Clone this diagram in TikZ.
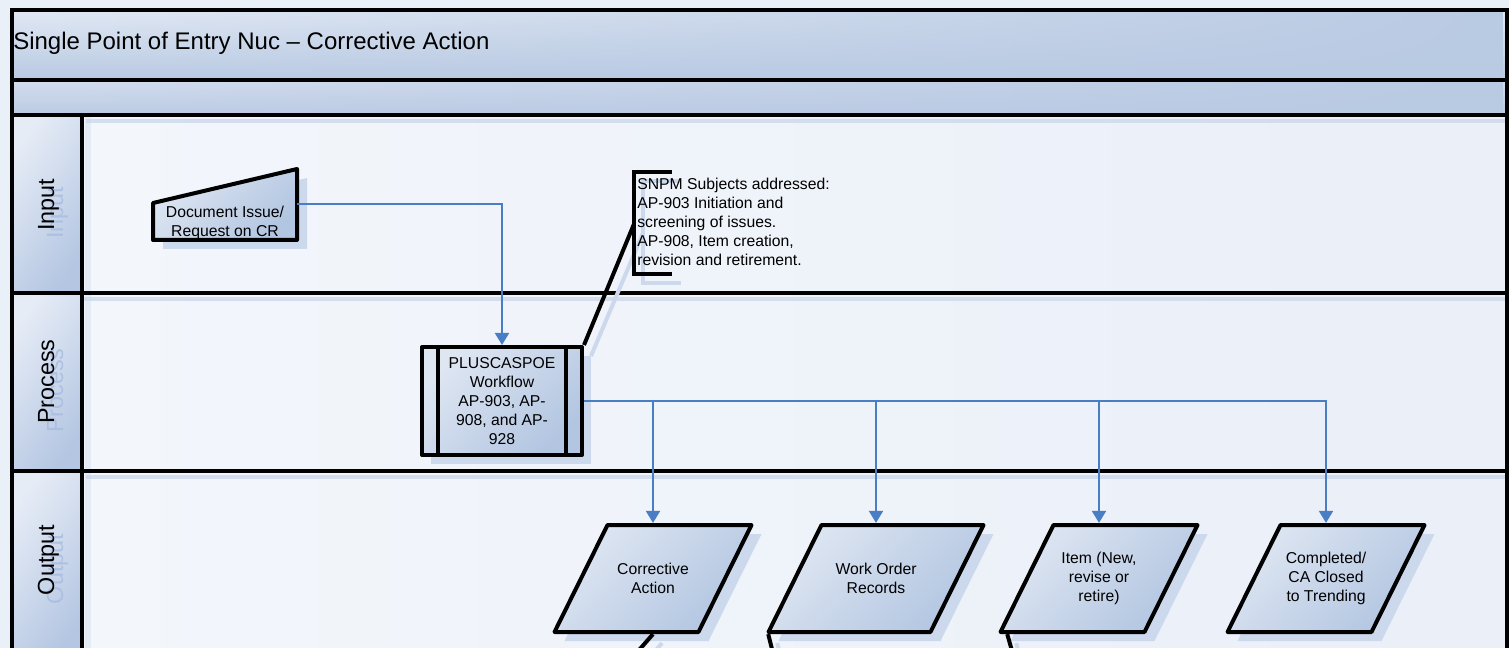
\documentclass[tikz,border=0pt]{standalone}
\usepackage{fontspec}
\setmainfont{Liberation Sans}
\usetikzlibrary{arrows.meta,calc,fadings}
\definecolor{bg}{HTML}{EAF0F8}
\definecolor{lanelight}{HTML}{F3F6FB}
\definecolor{lanedark}{HTML}{EAEFF8}
\definecolor{hdrlight}{HTML}{E6ECF6}
\definecolor{hdrdark}{HTML}{B4C6E2}
\definecolor{bandlight}{HTML}{E2E9F4}
\definecolor{banddark}{HTML}{B9CAE3}
\definecolor{band2light}{HTML}{D3DDEE}
\definecolor{band2dark}{HTML}{BCCCE4}
\definecolor{shapelight}{HTML}{DEE6F2}
\definecolor{shapedark}{HTML}{B2C5E1}
\definecolor{shad}{HTML}{CCD8EC}
\definecolor{conn}{HTML}{4A7EC4}
\definecolor{ghost}{HTML}{A9BDE0}
\newcommand\outshape[5]{%
  \begin{scope}[shift={(#2,#3)}]
    \fill[shadowfill,shift={(10,9)}] (-#4+26.5,-53.5) -- (#4+26.5,-53.5) -- (#4-26.5,53.5) -- (-#4-26.5,53.5) -- cycle;
    \draw[shapebox] (-#4+26.5,-53.5) -- (#4+26.5,-53.5) -- (#4-26.5,53.5) -- (-#4-26.5,53.5) -- cycle;
  \end{scope}
  \node[txt, minimum width={(#4+26.5)*1.5pt}, minimum height=83pt] (#1) at (#2,#3) {#5};
}
\begin{document}
\begin{tikzpicture}[x=0.75pt,y=-0.75pt,
  blackline/.style={draw=black,line width=3pt},
  shapebox/.style={draw=black,line width=3pt,line join=round,top color=shapelight,bottom color=shapedark,shading angle=45},
  shadowfill/.style={fill=shad},
  shadowline/.style={draw=shad,line width=3pt},
  txt/.style={font=\fontsize{11.8}{14.2}\selectfont,align=center,inner sep=0pt},
  lanelabel/.style={font=\fontsize{17.5}{20}\selectfont,rotate=90,anchor=base,inner sep=0pt},
  connector/.style={draw=conn,line width=1.5pt,-{Triangle[width=10.5pt,length=9pt]}},
]
\useasboundingbox (0,0) rectangle (1509,648);
\clip (0,0) rectangle (1509,648);
% background
\fill[bg] (0,0) rectangle (1509,648);
% title bands
\shade[top color=bandlight,bottom color=banddark] (12,10) rectangle (1507,80);
\fill[banddark,path fading=west] (12,10) rectangle (1507,80);
\shade[top color=band2light,bottom color=band2dark] (12,80) rectangle (1507,115);
\fill[banddark,path fading=west] (12,80) rectangle (1507,115);
% lane contents
\shade[left color=lanelight,right color=lanedark] (82,115) rectangle (1507,660);
% lane shadows
\draw[shad,line width=3pt,opacity=0.8] (86,121) -- (1507,121);
\draw[shad,line width=3pt,opacity=0.8] (18,299) -- (1507,299);
\draw[shad,line width=3pt,opacity=0.8] (86,477) -- (1507,477);
\draw[shad,line width=5pt,opacity=0.35] (88,115) -- (88,660);
% header cells
\foreach \ya/\yb in {115/293,293/471,471/660}{
  \shade[top color=hdrlight,bottom color=hdrdark,shading angle=55] (12,\ya) rectangle (82,\yb);
}
\begin{scope}
  \clip (14,117) rectangle (80,660);
  \node[lanelabel,text=ghost,opacity=0.85] (inghost) at (63,213) {Input};
  \node[lanelabel,text=ghost,opacity=0.85] (prghost) at (63,390.5) {Process};
  \node[lanelabel,text=ghost,opacity=0.85] (outghost) at (63,569) {Output};
\end{scope}
\node[lanelabel] (inlab) at (54,205) {Input};
\node[lanelabel] (prlab) at (54,381.5) {Process};
\node[lanelabel] (outlab) at (54,560) {Output};
% frame lines
\draw[blackline] (12,10) rectangle (1507,670);
\draw[blackline] (12,80) -- (1507,80);
\draw[blackline] (12,115) -- (1507,115);
\draw[blackline] (12,293) -- (1507,293);
\draw[blackline] (12,471) -- (1507,471);
\draw[blackline] (82,115) -- (82,670);
% title
\node[anchor=base west,font=\fontsize{18}{20}\selectfont,inner sep=0pt] (title) at (13,50) {Single Point of Entry Nuc – Corrective Action};

% ---- annotation (bracket + text)
\coordinate (annpt) at (634,224);
\draw[shadowline] (681,181) -- (643,181) -- (643,283) -- (681,283);
\draw[shadowline] (591,356) -- (643,233);
\draw[blackline] (672,172) -- (634,172) -- (634,274) -- (672,274);
\node[txt,align=left,anchor=north west] (ann) at (637,178) {SNPM Subjects addressed:\\AP-903 Initiation and\\screening of issues.\\AP-908, Item creation,\\revision and retirement.};

% ---- document issue (manual input)
\fill[shadowfill] (163,212) -- (307,178) -- (307,249) -- (163,249) -- cycle;
\draw[shapebox] (153,203) -- (297,169) -- (297,240) -- (153,240) -- cycle;
\node[minimum width=108pt,minimum height=53.25pt,inner sep=0pt] (doc) at (225,204.5) {};
\node[txt] (doctext) at (225,222.5) {Document Issue/\\Request on CR};

% ---- PLUSCASPOE workflow (predefined process)
\fill[shadowfill] (431,356) rectangle (591,464);
\node[shapebox,txt,minimum width=120pt,minimum height=81pt] (wf) at (502,401) {PLUSCASPOE\\Workflow\\AP-903, AP-\\908, and AP-\\928};
\draw[blackline] ($(wf.north west)+(18,2)$) -- ($(wf.south west)+(18,-2)$);
\draw[blackline] ($(wf.north east)+(-18,2)$) -- ($(wf.south east)+(-18,-2)$);
\draw[blackline] (wf.north east) -- (annpt);

% ---- outputs
\outshape{ca}{653}{578.5}{72}{Corrective\\Action}
\outshape{wo}{876}{578.5}{81}{Work Order\\Records}
\outshape{it}{1099}{578.5}{72}{Item (New,\\revise or\\retire)}
\outshape{cc}{1326}{578.5}{72}{Completed/\\CA Closed\\to Trending}

% ---- connectors
\draw[connector] (doc.east) -| (wf.north);
\draw[connector] (wf.east) -| (ca.north);
\draw[connector] (wf.east) -| (wo.north);
\draw[connector] (wf.east) -| (it.north);
\draw[connector] (wf.east) -| (cc.north);

% ---- lines leaving the picture at the bottom
\coordinate (caend) at (626,665);
\coordinate (woend) at (776,665);
\coordinate (itend) at (1016,665);
\draw[shadowline] ($(ca.south)+(9,9)$) -- ($(caend)+(9,9)$);
\draw[shadowline] ($(wo.south west)+(9,9)$) -- ($(woend)+(9,9)$);
\draw[shadowline] ($(it.south west)+(16,9)$) -- ($(itend)+(9,9)$);
\draw[blackline] (ca.south) -- (caend);
\draw[blackline] (wo.south west) -- (woend);
\draw[blackline] ($(it.south west)+(7,0)$) -- (itend);
\end{tikzpicture}
\end{document}
